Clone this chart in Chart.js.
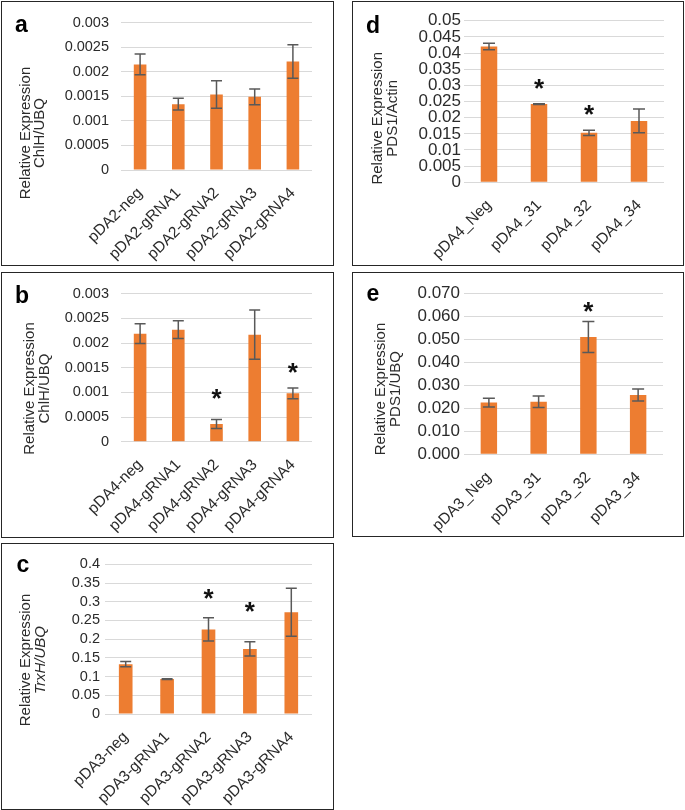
<!DOCTYPE html>
<html>
<head>
<meta charset="utf-8">
<script src="https://cdn.jsdelivr.net/npm/chart.js@4.4.0/dist/chart.umd.min.js"></script>
<style>
  body { margin: 0; background: #fff; width: 685px; height: 810px; position: relative; overflow: hidden; }
  .panel { position: absolute; border: 1.5px solid #262626; box-sizing: border-box; background: #fff; }
  .panel canvas { position: absolute; left: 0; top: 0; }
</style>
</head>
<body>
<script>
// panel a
const catsA = ['pDA2-neg', 'pDA2-gRNA1', 'pDA2-gRNA2', 'pDA2-gRNA3', 'pDA2-gRNA4'];
const valsA = [0.00215, 0.00134, 0.00154, 0.00149, 0.00221];
const errA = [0.00021, 0.00012, 0.00028, 0.00016, 0.00034];
const starA = [null, null, null, null, null];
const ticksA = ['0', '0.0005', '0.001', '0.0015', '0.002', '0.0025', '0.003'];

// panel b
const catsB = ['pDA4-neg', 'pDA4-gRNA1', 'pDA4-gRNA2', 'pDA4-gRNA3', 'pDA4-gRNA4'];
const valsB = [0.00219, 0.00227, 0.00036, 0.00217, 0.00098];
const errB = [0.00020, 0.00018, 0.00009, 0.00050, 0.00011];
const starB = [null, null, 0.00101, null, 0.00153];
const ticksB = ['0', '0.0005', '0.001', '0.0015', '0.002', '0.0025', '0.003'];

// panel c
const catsC = ['pDA3-neg', 'pDA3-gRNA1', 'pDA3-gRNA2', 'pDA3-gRNA3', 'pDA3-gRNA4'];
const valsC = [0.133, 0.0935, 0.226, 0.174, 0.272];
const errC = [0.007, 0.001, 0.031, 0.019, 0.064];
const starC = [null, null, 0.327, 0.291, null];
const ticksC = ['0', '0.05', '0.1', '0.15', '0.2', '0.25', '0.3', '0.35', '0.4'];

// panel d
const catsD = ['pDA4_Neg', 'pDA4_31', 'pDA4_32', 'pDA4_34'];
const valsD = [0.0420, 0.0242, 0.0153, 0.0190];
const errD = [0.0010, 0.0001, 0.0008, 0.0037];
const starD = [null, 0.0311, 0.0229, null];
const ticksD = ['0', '0.005', '0.01', '0.015', '0.02', '0.025', '0.03', '0.035', '0.04', '0.045', '0.05'];

// panel e
const catsE = ['pDA3_Neg', 'pDA3_31', 'pDA3_32', 'pDA3_34'];
const valsE = [0.0225, 0.0229, 0.0510, 0.0258];
const errE = [0.0019, 0.0025, 0.0067, 0.0026];
const starE = [null, null, 0.0649, null];
const ticksE = ['0.000', '0.010', '0.020', '0.030', '0.040', '0.050', '0.060', '0.070'];

const FONT = '"Liberation Sans", Arial, sans-serif';
const TEXT = '#2b2b2b';

const panels = [
    { letter: 'a', cats: catsA, vals: valsA, err: errA, star: starA, ticks: ticksA, max: 0.003, step: 0.0005,
      box: [0.5, 0.5, 333, 265], plot: [121, 21, 312, 170], pad: 12, yFont: 14.5, xPad: 14, cap: 5.5,
      title: ['Relative Expression', 'ChlH/UBQ'], italic: false, titleX: [29.7, 43.7], titleY: 133, letterPos: [15, 32] },
    { letter: 'b', cats: catsB, vals: valsB, err: errB, star: starB, ticks: ticksB, max: 0.003, step: 0.0005,
      box: [0.5, 271.5, 333, 266], plot: [121, 292.7, 312, 441.7], pad: 12, yFont: 14.5, xPad: 14, cap: 5.5,
      title: ['Relative Expression', 'ChlH/UBQ'], italic: false, titleX: [33.7, 48.7], titleY: 388.5, letterPos: [15, 303] },
    { letter: 'c', cats: catsC, vals: valsC, err: errC, star: starC, ticks: ticksC, max: 0.4, step: 0.05,
      box: [0.5, 542.5, 333, 267], plot: [105, 564.3, 312, 714], pad: 5, yFont: 14.5, xPad: 14, cap: 5.5,
      title: ['Relative Expression', 'TrxH/UBQ'], italic: true, titleX: [30.4, 45.4], titleY: 660, letterPos: [16.5, 572] },
    { letter: 'd', cats: catsD, vals: valsD, err: errD, star: starD, ticks: ticksD, max: 0.05, step: 0.005,
      box: [351.5, 0.5, 332, 265], plot: [464, 20.7, 664, 182.3], pad: 3, yFont: 17, xPad: 14, cap: 6,
      title: ['Relative Expression', 'PDS1/Actin'], italic: false, titleX: [382.1, 397.1], titleY: 118.3, letterPos: [366, 33] },
    { letter: 'e', cats: catsE, vals: valsE, err: errE, star: starE, ticks: ticksE, max: 0.07, step: 0.01,
      box: [351.5, 271.5, 332, 265], plot: [464, 293.3, 663, 454.3], pad: 4, yFont: 17, xPad: 14, cap: 6,
      title: ['Relative Expression', 'PDS1/UBQ'], italic: false, titleX: [385.4, 400.4], titleY: 389, letterPos: [366.5, 301] }
];

function annotations(p, ox, oy) {
    return {
        id: 'annot' + p.letter,
        afterDatasetsDraw(chart) {
            const ctx = chart.ctx;
            const xs = chart.scales.x;
            const ys = chart.scales.y;
            ctx.save();
            ctx.strokeStyle = '#595959';
            ctx.lineWidth = 1.5;
            p.vals.forEach((v, i) => {
                const x = xs.getPixelForValue(i);
                const hi = ys.getPixelForValue(v + p.err[i]);
                const lo = ys.getPixelForValue(v - p.err[i]);
                ctx.beginPath();
                ctx.moveTo(x, lo); ctx.lineTo(x, hi);
                ctx.moveTo(x - p.cap, lo); ctx.lineTo(x + p.cap, lo);
                ctx.moveTo(x - p.cap, hi); ctx.lineTo(x + p.cap, hi);
                ctx.stroke();
            });
            // significance stars
            ctx.fillStyle = '#111';
            ctx.font = 'bold 26px ' + FONT;
            ctx.textAlign = 'center';
            ctx.textBaseline = 'alphabetic';
            p.star.forEach((s, i) => {
                if (s === null) return;
                ctx.fillText('*', xs.getPixelForValue(i), ys.getPixelForValue(s) + 15);
            });
            ctx.restore();
        },
        afterDraw(chart) {
            const ctx = chart.ctx;
            ctx.save();
            ctx.fillStyle = TEXT;
            ctx.textAlign = 'center';
            ctx.textBaseline = 'alphabetic';
            p.title.forEach((line, i) => {
                ctx.save();
                ctx.font = (p.italic && i === 1 ? 'italic ' : '') + '15px ' + FONT;
                ctx.translate(p.titleX[i] - ox, p.titleY - oy);
                ctx.rotate(-Math.PI / 2);
                ctx.fillText(line, 0, 0);
                ctx.restore();
            });
            ctx.fillStyle = '#000';
            ctx.textAlign = 'left';
            ctx.font = 'bold 23px ' + FONT;
            ctx.fillText(p.letter, p.letterPos[0] - ox, p.letterPos[1] - oy);
            ctx.restore();
        }
    };
}

function makePanel(p) {
    const [L, T, W, H] = p.box;
    const el = document.createElement('div');
    el.className = 'panel';
    el.style.left = L + 'px';
    el.style.top = T + 'px';
    el.style.width = W + 'px';
    el.style.height = H + 'px';
    const cv = document.createElement('canvas');
    const cw = W - 3, ch = H - 3;
    cv.width = cw;
    cv.height = ch;
    el.appendChild(cv);
    document.body.appendChild(el);

    const ox = L + 1.5, oy = T + 1.5;
    const [pl, pt, pr, pb] = p.plot;

    return new Chart(cv, {
        type: 'bar',
        data: {
            labels: p.cats,
            datasets: [{
                data: p.vals,
                backgroundColor: '#ED7D31',
                barPercentage: 0.33,
                categoryPercentage: 1
            }]
        },
        options: {
            responsive: false,
            animation: false,
            devicePixelRatio: 1,
            layout: { padding: { top: pt - oy, right: ox + cw - pr, left: 0, bottom: 0 } },
            plugins: { legend: { display: false }, tooltip: { enabled: false } },
            scales: {
                x: {
                    grid: { display: false, drawTicks: false },
                    border: { display: false },
                    ticks: {
                        color: TEXT,
                        font: { family: FONT, size: 15.5 },
                        maxRotation: 45,
                        minRotation: 45,
                        autoSkip: false,
                        padding: p.xPad
                    },
                    afterFit: s => { s.height = oy + ch - pb; }
                },
                y: {
                    min: 0,
                    max: p.max,
                    grid: { color: '#d9d9d9', lineWidth: 1, drawTicks: false },
                    border: { display: false },
                    ticks: {
                        stepSize: p.step,
                        autoSkip: false,
                        color: TEXT,
                        font: { family: FONT, size: p.yFont },
                        padding: p.pad,
                        callback: (v, i) => p.ticks[i]
                    },
                    afterFit: s => { s.width = pl - ox; }
                }
            }
        },
        plugins: [annotations(p, ox, oy)]
    });
}

panels.forEach(makePanel);
</script>
</body>
</html>
